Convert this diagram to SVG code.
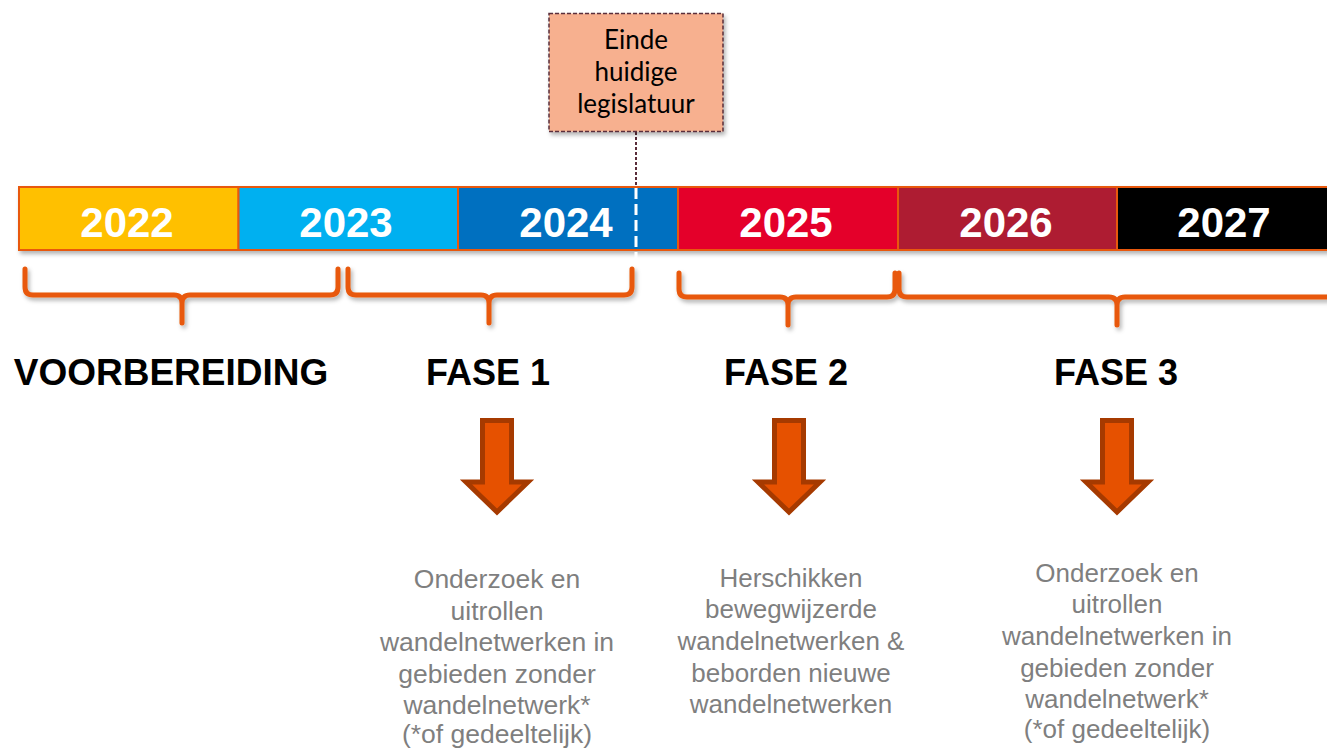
<svg xmlns="http://www.w3.org/2000/svg" width="1327" height="749" viewBox="0 0 1327 749">
<defs>
<style>
.seg{stroke:#E8590C;stroke-width:2}
.yr{font-family:"Liberation Sans",Arial,sans-serif;font-weight:bold;font-size:42px;fill:#FFFFFF;text-anchor:middle}
.lbl{font-family:"Liberation Sans",Arial,sans-serif;font-weight:bold;font-size:36px;fill:#000000;text-anchor:middle}
.desc{font-family:"Liberation Sans",Arial,sans-serif;font-size:26.5px;fill:#7F7F7F;text-anchor:middle}
.brace{fill:none;stroke:#E8590C;stroke-width:5;stroke-linecap:round;stroke-linejoin:round}
.arrow{fill:#E65100;stroke:#A63A00;stroke-width:5;stroke-linejoin:miter}
.call{font-family:Lato,"Open Sans",sans-serif;font-size:26px;fill:#000000;text-anchor:middle}
</style>
<filter id="sh" x="-10%" y="-20%" width="130%" height="160%">
<feDropShadow dx="2" dy="3" stdDeviation="2" flood-color="#000" flood-opacity="0.3"/>
</filter>
</defs>

<g id="timeline" filter="url(#sh)">
<rect class="seg" x="19" y="187" width="219.5" height="63" fill="#FFC000"/>
<rect class="seg" x="238.5" y="187" width="219.5" height="63" fill="#00B0F0"/>
<rect class="seg" x="458" y="187" width="220" height="63" fill="#0070C0"/>
<rect class="seg" x="678" y="187" width="220" height="63" fill="#E4002B"/>
<rect class="seg" x="898" y="187" width="219" height="63" fill="#AE1D33"/>
<rect class="seg" x="1117" y="187" width="220" height="63" fill="#000000"/>
</g>
<g id="years">
<text class="yr" x="127" y="237">2022</text>
<text class="yr" x="346" y="237">2023</text>
<text class="yr" x="566" y="237">2024</text>
<text class="yr" x="786" y="237">2025</text>
<text class="yr" x="1006" y="237">2026</text>
<text class="yr" x="1224" y="237">2027</text>
</g>

<g id="connectors">
<line x1="636" y1="132" x2="636" y2="187" stroke="#5A2D3A" stroke-width="2" stroke-dasharray="3 2"/>
<line x1="636" y1="188" x2="636" y2="262" stroke="#FFFFFF" stroke-width="3" stroke-dasharray="11 5"/>
</g>

<g id="callout">
<rect x="549" y="13.5" width="174" height="118" fill="#F7B08F" stroke="#5A2D3A" stroke-width="1.5" stroke-dasharray="4 2" filter="url(#sh)"/>
<text class="call" x="636" y="49">Einde</text>
<text class="call" x="636" y="81">huidige</text>
<text class="call" x="636" y="113">legislatuur</text>
</g>

<g id="braces" filter="url(#sh)">
<path class="brace" d="M25 269 V287 Q25 295 33 295 H174 Q182 295 182 303 V323 M182 303 Q182 295 190 295 H330 Q338 295 338 287 V269"/>
<path class="brace" d="M348 269 V287 Q348 295 356 295 H481 Q489 295 489 303 V323 M489 303 Q489 295 497 295 H624 Q632 295 632 287 V269"/>
<path class="brace" d="M679 273 V289 Q679 297 687 297 H780 Q788 297 788 305 V325 M788 305 Q788 297 796 297 H887 Q895 297 895 289 V273"/>
<path class="brace" d="M899 273 V289 Q899 297 907 297 H1109 Q1117 297 1117 305 V325 M1117 305 Q1117 297 1125 297 H1340"/>
</g>

<g id="voorbereiding"><text class="lbl" x="171" y="385" style="font-size:37px">VOORBEREIDING</text></g>

<g id="fase1">
<text class="lbl" x="488" y="385">FASE 1</text>
<path class="arrow" d="M482.5 420.5 H511.5 V482 H528 L497 512 L466 482 H482.5 Z"/>
<text class="desc" x="497" y="588">Onderzoek en</text>
<text class="desc" x="497" y="620">uitrollen</text>
<text class="desc" x="497" y="651">wandelnetwerken in</text>
<text class="desc" x="497" y="683">gebieden zonder</text>
<text class="desc" x="497" y="714">wandelnetwerk*</text>
<text class="desc" x="497" y="743">(*of gedeeltelijk)</text>
</g>

<g id="fase2">
<text class="lbl" x="786" y="385">FASE 2</text>
<path class="arrow" d="M774.5 420.5 H803.5 V482 H820 L789 512 L758 482 H774.5 Z"/>
<text class="desc" x="791" y="587" style="font-size:26px">Herschikken</text>
<text class="desc" x="791" y="618" style="font-size:26px">bewegwijzerde</text>
<text class="desc" x="791" y="650" style="font-size:26px">wandelnetwerken &amp;</text>
<text class="desc" x="791" y="682" style="font-size:26px">beborden nieuwe</text>
<text class="desc" x="791" y="713" style="font-size:26px">wandelnetwerken</text>
</g>

<g id="fase3">
<text class="lbl" x="1116" y="385">FASE 3</text>
<path class="arrow" d="M1102.5 420.5 H1131.5 V482 H1148 L1117 512 L1086 482 H1102.5 Z"/>
<text class="desc" x="1117" y="582" style="font-size:26px">Onderzoek en</text>
<text class="desc" x="1117" y="613" style="font-size:26px">uitrollen</text>
<text class="desc" x="1117" y="645" style="font-size:26px">wandelnetwerken in</text>
<text class="desc" x="1117" y="677" style="font-size:26px">gebieden zonder</text>
<text class="desc" x="1117" y="708" style="font-size:26px">wandelnetwerk*</text>
<text class="desc" x="1117" y="738" style="font-size:26px">(*of gedeeltelijk)</text>
</g>
</svg>
